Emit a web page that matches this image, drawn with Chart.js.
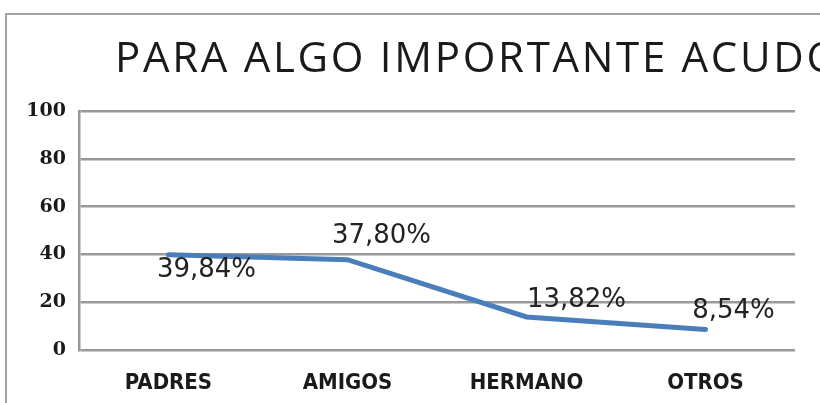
<!DOCTYPE html>
<html>
<head>
<meta charset="utf-8">
<script src="https://cdn.jsdelivr.net/npm/chart.js@4"></script>
<style>
  html, body { margin: 0; padding: 0; background: #fff; }
  #caja { width: 820px; height: 403px; position: relative; }
</style>
</head>
<body>
<div id="caja"><canvas id="grafico" width="820" height="403"></canvas></div>
<script>
const titulo = 'PARA ALGO IMPORTANTE ACUDO';
const categorias = ['PADRES', 'AMIGOS', 'HERMANO', 'OTROS'];
const valores = [39.84, 37.80, 13.82, 8.54];
const etiquetas = ['39,84%', '37,80%', '13,82%', '8,54%'];
// desplazamiento de cada etiqueta respecto a su punto
const desplazX = [38, 34, 50, 28];
const desplazY = [15, -23, -17, -18];

const marcoYTitulo = {
  id: 'marcoYTitulo',
  beforeDraw(chart) {
    const ctx = chart.ctx;
    ctx.save();
    ctx.strokeStyle = '#a3a3a3';
    ctx.lineWidth = 2;
    ctx.beginPath();
    ctx.moveTo(6, 403);
    ctx.lineTo(6, 14);
    ctx.lineTo(820, 14);
    ctx.stroke();
    ctx.fillStyle = '#1a1a1a';
    ctx.font = '42px "Open Sans"';
    ctx.letterSpacing = '2.7px';
    ctx.textBaseline = 'alphabetic';
    ctx.fillText(titulo, 115, 72);
    ctx.restore();
  },
  afterDatasetsDraw(chart) {
    const ctx = chart.ctx;
    const meta = chart.getDatasetMeta(0);
    ctx.save();
    ctx.fillStyle = '#222';
    ctx.font = '26px "DejaVu Sans"';
    ctx.textAlign = 'center';
    ctx.textBaseline = 'middle';
    meta.data.forEach((p, i) => {
      ctx.fillText(etiquetas[i], p.x + desplazX[i], p.y + desplazY[i]);
    });
    ctx.restore();
  }
};

new Chart(document.getElementById('grafico'), {
  type: 'line',
  data: {
    labels: categorias,
    datasets: [{
      data: valores,
      borderColor: '#4a7ebb',
      borderWidth: 5,
      borderCapStyle: 'round',
      pointRadius: 0,
      tension: 0
    }]
  },
  options: {
    responsive: false,
    animation: false,
    layout: { padding: { top: 111, right: 25, left: 0, bottom: 0 } },
    plugins: { legend: { display: false }, tooltip: { enabled: false } },
    scales: {
      x: {
        offset: true,
        grid: { display: false },
        border: { display: false },
        ticks: {
          color: '#1a1a1a',
          padding: 12,
          font: { family: '"Liberation Sans Narrow", "DejaVu Sans Condensed"', size: 22, weight: 'bold' }
        },
        afterFit(scale) { scale.height = 53; }
      },
      y: {
        min: 0,
        max: 100,
        ticks: {
          stepSize: 20,
          color: '#1a1a1a',
          padding: 13,
          font: { family: '"DejaVu Serif"', size: 19, weight: 'bold' }
        },
        grid: { color: '#999', lineWidth: 2.5, drawTicks: false },
        border: { color: '#999', width: 2.5 },
        afterFit(scale) { scale.width = 79; }
      }
    }
  },
  plugins: [marcoYTitulo]
});
</script>
</body>
</html>
